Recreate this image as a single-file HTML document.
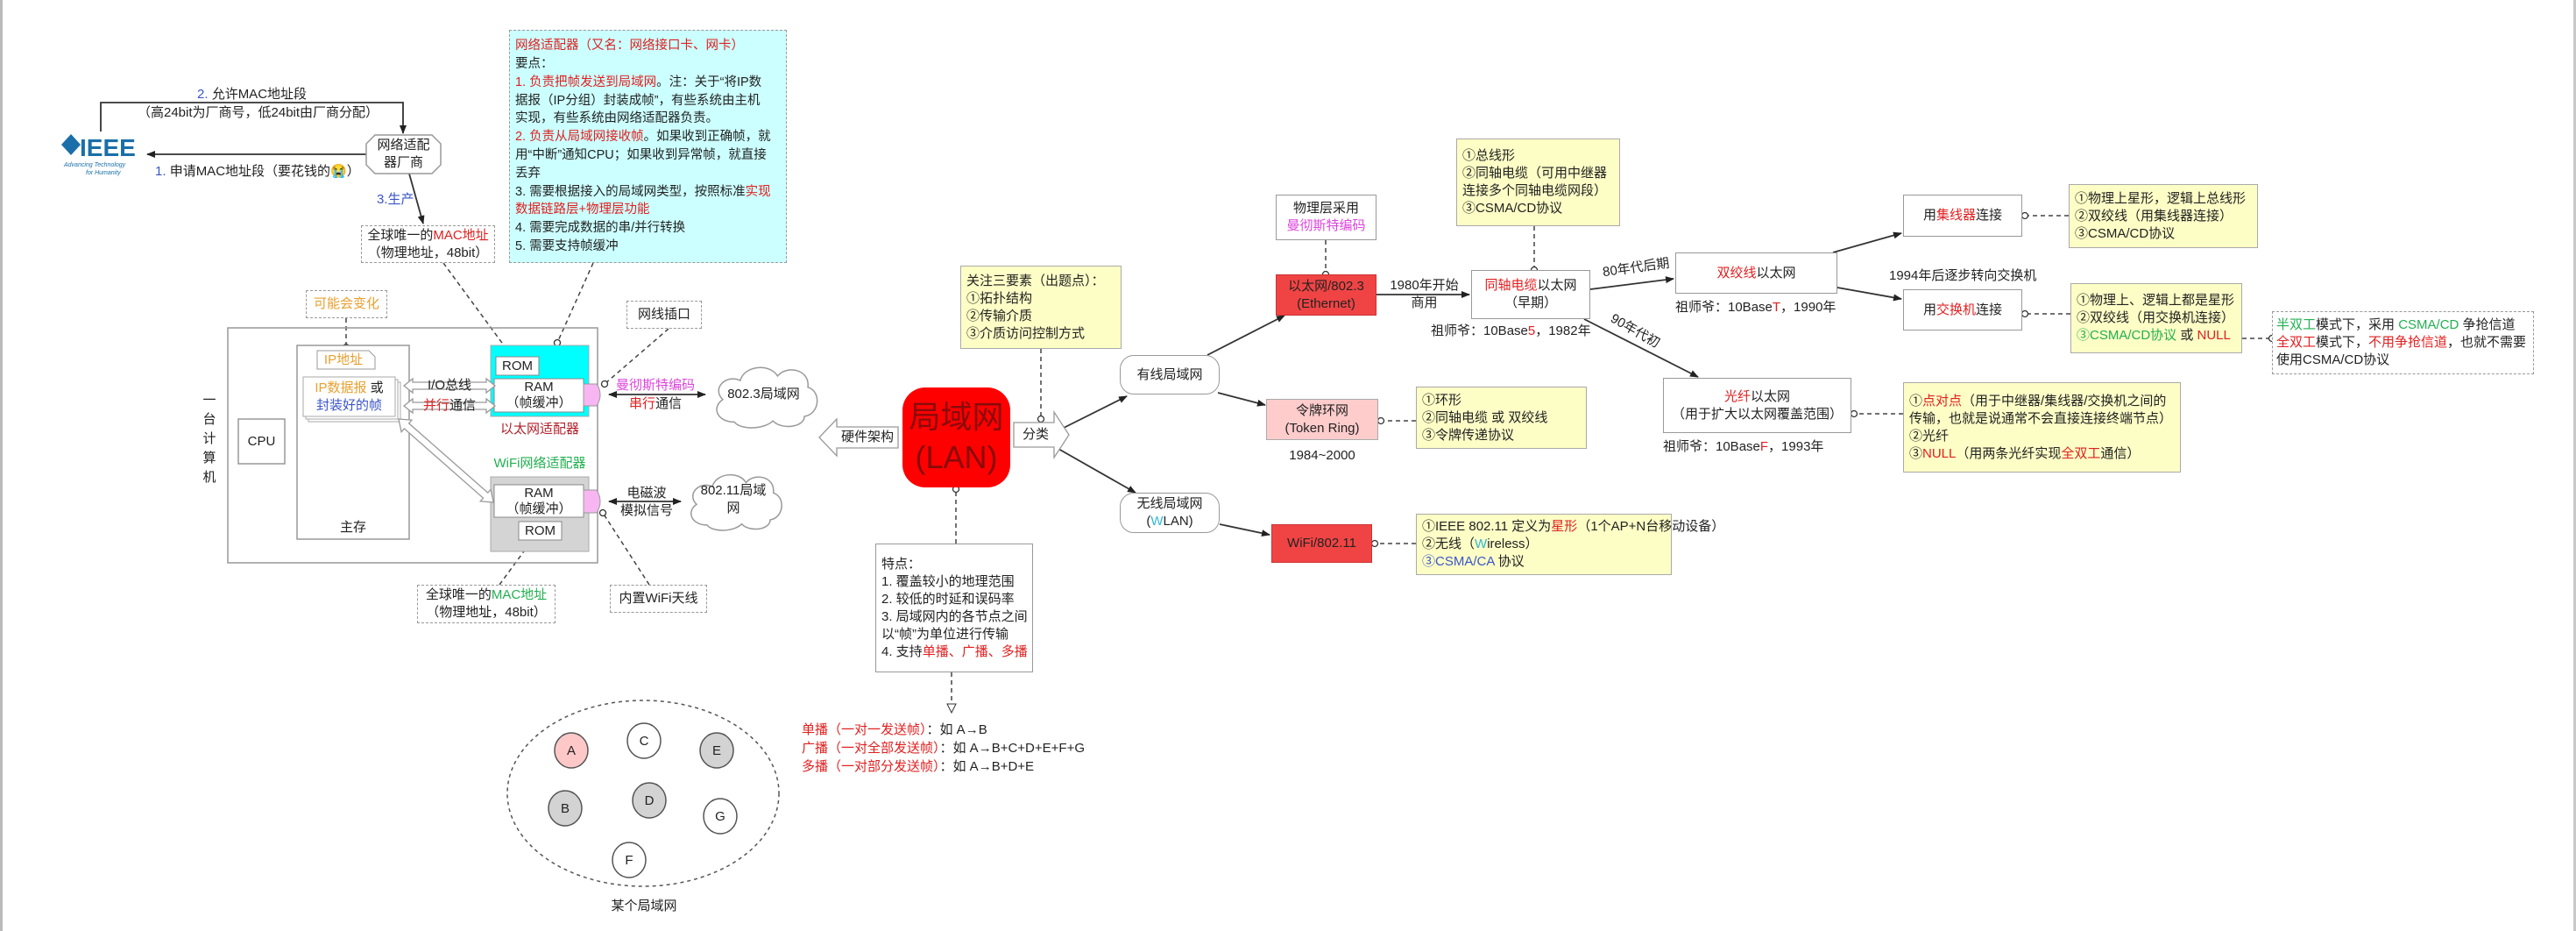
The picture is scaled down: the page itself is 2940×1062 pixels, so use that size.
<!DOCTYPE html>
<html><head><meta charset="utf-8">
<style>
html,body{margin:0;padding:0;background:#fff;}
#c{position:relative;width:2940px;height:1062px;overflow:hidden;background:#fff;font-family:"Liberation Sans","Noto Sans CJK SC",sans-serif;color:#222;border-left:3px solid #bbb;box-sizing:border-box;}
.b{position:absolute;box-sizing:border-box;display:flex;flex-direction:column;align-items:center;justify-content:center;text-align:center;font-size:15px;line-height:20px;white-space:nowrap;}
.t{position:absolute;font-size:15px;line-height:20px;white-space:nowrap;}
.y{background:#fdfdc6;border:1.5px solid #aaa;align-items:flex-start;text-align:left;padding-left:6px;}
.w{background:#fff;border:1.5px solid #999;}
.d{border:1.5px dashed #999;background:#fff;}
.r{color:#e02020}.bl{color:#3a55c8}.g{color:#22b050}.m{color:#dd44dd}.o{color:#e8a030}.c{color:#30b8d8}.dr{color:#b0202a}
svg{position:absolute;left:0;top:0;}
</style></head><body><div id="c">

<svg width="2940" height="1062">
<defs>
<marker id="a" markerWidth="10" markerHeight="10" refX="9" refY="5" orient="auto" markerUnits="userSpaceOnUse"><path d="M0,1 L10,5 L0,9 Z" fill="#222"/></marker>
<marker id="as" markerWidth="10" markerHeight="10" refX="1" refY="5" orient="auto" markerUnits="userSpaceOnUse"><path d="M10,1 L0,5 L10,9 Z" fill="#222"/></marker>
<marker id="o" markerWidth="10" markerHeight="10" refX="5" refY="5" orient="auto" markerUnits="userSpaceOnUse"><circle cx="5" cy="5" r="3.5" fill="#fff" stroke="#333" stroke-width="1.3"/></marker>
<marker id="dot" markerWidth="10" markerHeight="10" refX="5" refY="5" orient="auto" markerUnits="userSpaceOnUse"><circle cx="5" cy="5" r="4" fill="#222"/></marker>
<marker id="tri" markerWidth="12" markerHeight="12" refX="10" refY="6" orient="auto" markerUnits="userSpaceOnUse"><path d="M1,1 L11,6 L1,11 Z" fill="#fff" stroke="#333"/></marker>
</defs>
<g fill="none" stroke="#333" stroke-width="1.8">
<!-- IEEE -->
<polyline points="112,150 112,117 457,117 457,152" marker-end="url(#a)"/>
<line x1="415" y1="176" x2="165" y2="176" marker-end="url(#a)"/>
<line x1="464" y1="198" x2="480" y2="255" marker-end="url(#a)"/>
<!-- network arrows -->
<line x1="692" y1="450" x2="802" y2="450" marker-start="url(#as)" marker-end="url(#a)"/>
<line x1="692" y1="572" x2="774" y2="572" marker-start="url(#as)" marker-end="url(#a)"/>
<!-- LAN tree -->
<line x1="1211" y1="488" x2="1283" y2="452" marker-end="url(#a)"/>
<line x1="1205" y1="512" x2="1293" y2="562" marker-end="url(#a)"/>
<line x1="1375" y1="405" x2="1463" y2="360" marker-end="url(#a)"/>
<line x1="1387" y1="448" x2="1441" y2="462" marker-end="url(#a)"/>
<line x1="1389" y1="598" x2="1446" y2="610" marker-end="url(#a)"/>
<line x1="1568" y1="336" x2="1674" y2="336" marker-end="url(#a)"/>
<line x1="1812" y1="330" x2="1907" y2="318" marker-end="url(#a)"/>
<line x1="1805" y1="364" x2="1935" y2="430" marker-end="url(#a)"/>
<line x1="2089" y1="288" x2="2167" y2="266" marker-end="url(#a)"/>
<line x1="2094" y1="328" x2="2167" y2="341" marker-end="url(#a)"/>
</g>
<g fill="none" stroke="#444" stroke-width="1.5" stroke-dasharray="5,4">
<line x1="503" y1="300" x2="578" y2="402" marker-end="url(#o)"/>
<line x1="674" y1="300" x2="633" y2="391" marker-end="url(#o)"/>
<line x1="392" y1="363" x2="392" y2="396" marker-end="url(#dot)"/>
<line x1="760" y1="375" x2="687" y2="438" marker-end="url(#o)"/>
<line x1="567" y1="667" x2="603" y2="618" marker-end="url(#o)"/>
<line x1="738" y1="667" x2="685" y2="585" marker-end="url(#o)"/>
<line x1="1185" y1="398" x2="1185" y2="478" marker-end="url(#o)"/>
<line x1="1088" y1="620" x2="1088" y2="558" marker-end="url(#o)"/>
<line x1="1083" y1="767" x2="1083" y2="812" marker-end="url(#tri)"/>
<line x1="1510" y1="274" x2="1510" y2="313" marker-end="url(#o)"/>
<line x1="1748" y1="258" x2="1748" y2="308" marker-end="url(#o)"/>
<line x1="2358" y1="246" x2="2308" y2="246" marker-end="url(#o)"/>
<line x1="2360" y1="358" x2="2308" y2="358" marker-end="url(#o)"/>
<line x1="2556" y1="386" x2="2590" y2="386" marker-end="url(#o)"/>
<line x1="2169" y1="472" x2="2113" y2="472" marker-end="url(#o)"/>
<line x1="1613" y1="480" x2="1573" y2="480" marker-end="url(#o)"/>
<line x1="1613" y1="620" x2="1566" y2="620" marker-end="url(#o)"/>
</g>
<!-- computer box -->
<rect x="257" y="374" width="422" height="268" fill="none" stroke="#999" stroke-width="1.5"/>
<rect x="336" y="394" width="128" height="221" fill="#fff" stroke="#999" stroke-width="1.5"/>
<rect x="269" y="478" width="53" height="51" fill="#fff" stroke="#999" stroke-width="1.5"/>
<!-- IP stacked -->
<rect x="349" y="436" width="105" height="45" fill="#fff" stroke="#aaa"/>
<rect x="346" y="433" width="105" height="45" fill="#fff" stroke="#aaa"/>
<rect x="343" y="430" width="105" height="45" fill="#fff" stroke="#aaa"/>
<path d="M359,400 L418,400 L425,407 L425,421 L359,421 Z" fill="#fff" stroke="#999"/>
<!-- adapters -->
<rect x="557" y="394" width="112" height="81" fill="#00ffff" stroke="#aaa"/>
<rect x="563" y="407" width="49" height="21" fill="#fff" stroke="#888"/>
<rect x="561" y="432" width="102" height="38" fill="#fff" stroke="#888"/>
<path d="M663,438 L678,438 Q686,450 678,463 L663,463 Z" fill="#f7b6f2" stroke="#999"/>
<rect x="557" y="544" width="112" height="85" fill="#d4d4d4" stroke="#aaa"/>
<rect x="561" y="553" width="102" height="37" fill="#fff" stroke="#888"/>
<rect x="589" y="595" width="49" height="21" fill="#fff" stroke="#888"/>
<path d="M663,559 L678,559 Q686,572 678,585 L663,585 Z" fill="#f7b6f2" stroke="#999"/>
<!-- hollow arrows IO -->
<g fill="#fff" stroke="#999" stroke-width="1.3">
<path d="M458,440 L468,432 L468,436 L552,436 L552,432 L562,440 L552,448 L552,444 L468,444 L468,448 Z"/>
<path d="M458,463 L468,455 L468,459 L552,459 L552,455 L562,463 L552,471 L552,467 L468,467 L468,471 Z"/>
<g transform="translate(452,478) rotate(41.3)"><path d="M0,0 L12,-9 L12,-4 L132,-4 L132,-9 L144,0 L132,9 L132,4 L12,4 L12,9 Z"/></g>
<path d="M932,499 L952,478 L952,487 L1022,487 L1022,511 L952,511 L952,520 Z"/>
<path d="M1154,482 L1200,482 L1200,470 L1217,496 L1200,522 L1200,510 L1154,510 Z"/>
</g>
<!-- clouds -->
<g fill="#fff" stroke="#999" stroke-width="1.5">
<path transform="translate(802,411) scale(1.33,1.28)" vector-effect="non-scaling-stroke" d="M25,55 C10,55 5,42 15,35 C5,25 18,12 30,18 C33,5 55,2 62,14 C70,4 90,8 88,24 C100,28 98,48 85,50 C85,60 65,62 58,54 C50,62 30,62 25,55 Z"/>
<path transform="translate(774,534) scale(1.2,1.18)" vector-effect="non-scaling-stroke" d="M25,55 C10,55 5,42 15,35 C5,25 18,12 30,18 C33,5 55,2 62,14 C70,4 90,8 88,24 C100,28 98,48 85,50 C85,60 65,62 58,54 C50,62 30,62 25,55 Z"/>
</g>
<!-- vendor box -->
<path d="M425,154 L490,154 L500,164 L500,188 L490,198 L425,198 L415,188 L415,164 Z" fill="#fff" stroke="#999" stroke-width="1.5"/>
<!-- IEEE logo -->
<path d="M67,165 L78,153 L89,165 L78,177 Z" fill="#1a6fa8"/>
<text x="88" y="178" font-family="Liberation Sans" font-weight="bold" font-size="28" fill="#1a6fa8">IEEE</text>
<text x="70" y="190" font-family="Liberation Sans" font-style="italic" font-size="7" fill="#1a6fa8">Advancing Technology</text>
<text x="95" y="199" font-family="Liberation Sans" font-style="italic" font-size="7" fill="#1a6fa8">for Humanity</text>
<!-- LAN ellipse -->
<ellipse cx="731" cy="905" rx="155" ry="106" fill="none" stroke="#555" stroke-width="1.5" stroke-dasharray="4,4"/>
<g stroke="#555" stroke-width="1.5" font-family="Liberation Sans" font-size="15" text-anchor="middle">
<ellipse cx="649" cy="856" rx="19" ry="20" fill="#ffc8c8"/>
<ellipse cx="732" cy="845" rx="19" ry="20" fill="#fff"/>
<ellipse cx="815" cy="856" rx="19" ry="20" fill="#d3d3d3"/>
<ellipse cx="642" cy="922" rx="19" ry="20" fill="#d3d3d3"/>
<ellipse cx="738" cy="913" rx="19" ry="20" fill="#d3d3d3"/>
<ellipse cx="819" cy="931" rx="19" ry="20" fill="#fff"/>
<ellipse cx="715" cy="981" rx="19" ry="20" fill="#fff"/>
</g>
<g font-family="Liberation Sans" font-size="15" text-anchor="middle" fill="#222">
<text x="649" y="861">A</text><text x="732" y="850">C</text><text x="815" y="861">E</text>
<text x="642" y="927">B</text><text x="738" y="918">D</text><text x="819" y="936">G</text><text x="715" y="986">F</text>
</g>
</svg>

<!-- left labels -->
<div class="t" style="left:222px;top:98px;font-size:15px"><span class="bl">2. </span>允许MAC地址段</div>
<div class="t" style="left:154px;top:119px;">（高24bit为厂商号，低24bit由厂商分配）</div>
<div class="t" style="left:174px;top:186px;"><span class="bl">1. </span>申请MAC地址段（要花钱的😭）</div>
<div class="b" style="left:415px;top:154px;width:85px;height:44px;line-height:20px">网络适配<br>器厂商</div>
<div class="t bl" style="left:427px;top:218px;">3.生产</div>
<div class="b d" style="left:409px;top:257px;width:153px;height:43px;"><div>全球唯一的<span class="r">MAC地址</span></div><div>（物理地址，48bit）</div></div>

<div class="b d" style="left:578px;top:34px;width:317px;height:266px;background:#ccffff;align-items:flex-start;text-align:left;padding-left:6px;line-height:20.8px;font-size:14.5px">
<div><span class="r">网络适配器（又名：网络接口卡、网卡）</span></div>
<div>要点：</div>
<div><span class="r">1. 负责把帧发送到局域网</span>。注：关于“将IP数</div>
<div>据报（IP分组）封装成帧”，有些系统由主机</div>
<div>实现，有些系统由网络适配器负责。</div>
<div><span class="r">2. 负责从局域网接收帧</span>。如果收到正确帧，就</div>
<div>用“中断”通知CPU；如果收到异常帧，就直接</div>
<div>丢弃</div>
<div>3. 需要根据接入的局域网类型，按照标准<span class="r">实现</span></div>
<div><span class="r">数据链路层+物理层功能</span></div>
<div>4. 需要完成数据的串/并行转换</div>
<div>5. 需要支持帧缓冲</div>
</div>

<div class="b d o" style="left:346px;top:331px;width:93px;height:32px;">可能会变化</div>
<div class="b d" style="left:712px;top:343px;width:86px;height:32px;">网线插口</div>

<div class="t" style="left:226px;top:446px;width:20px;line-height:22px;white-space:normal;text-align:center;">一<br>台<br>计<br>算<br>机</div>
<div class="b" style="left:269px;top:478px;width:53px;height:51px;">CPU</div>
<div class="b" style="left:336px;top:592px;width:128px;height:20px;">主存</div>
<div class="b o" style="left:359px;top:400px;width:60px;height:21px;">IP地址</div>
<div class="b" style="left:343px;top:430px;width:105px;height:45px;"><div><span class="o">IP数据报</span> 或</div><div class="bl">封装好的帧</div></div>
<div class="b" style="left:563px;top:407px;width:49px;height:21px;">ROM</div>
<div class="b" style="left:561px;top:432px;width:102px;height:38px;line-height:18px">RAM<br>（帧缓冲）</div>
<div class="b dr" style="left:557px;top:480px;width:112px;height:20px;">以太网适配器</div>
<div class="b g" style="left:557px;top:519px;width:112px;height:20px;">WiFi网络适配器</div>
<div class="b" style="left:561px;top:553px;width:102px;height:37px;line-height:18px">RAM<br>（帧缓冲）</div>
<div class="b" style="left:589px;top:595px;width:49px;height:21px;">ROM</div>
<div class="b" style="left:470px;top:430px;width:80px;height:20px;">I/O总线</div>
<div class="b" style="left:470px;top:453px;width:80px;height:20px;"><div><span class="r">并行</span>通信</div></div>
<div class="b m" style="left:695px;top:430px;width:100px;height:20px;">曼彻斯特编码</div>
<div class="b" style="left:695px;top:451px;width:100px;height:20px;"><div><span class="r">串行</span>通信</div></div>
<div class="b" style="left:802px;top:416px;width:133px;height:68px;">802.3局域网</div>
<div class="b" style="left:695px;top:553px;width:80px;height:20px;">电磁波</div>
<div class="b" style="left:695px;top:573px;width:80px;height:20px;">模拟信号</div>
<div class="b" style="left:778px;top:538px;width:112px;height:64px;">802.11局域<br>网</div>
<div class="b d" style="left:473px;top:667px;width:158px;height:44px;"><div>全球唯一的<span class="g">MAC地址</span></div><div>（物理地址，48bit）</div></div>
<div class="b d" style="left:693px;top:667px;width:111px;height:32px;">内置WiFi天线</div>
<div class="b" style="left:952px;top:489px;width:70px;height:20px;">硬件架构</div>

<!-- LAN -->
<div class="b" style="left:1027px;top:442px;width:123px;height:114px;background:#ff0000;border-radius:26px;font-size:36px;line-height:46px;color:#8a0a0a;">局域网<br>(LAN)</div>
<div class="b" style="left:1154px;top:486px;width:50px;height:20px;">分类</div>
<div class="b y" style="left:1093px;top:303px;width:184px;height:95px;"><div>关注三要素（出题点）：</div><div>①拓扑结构</div><div>②传输介质</div><div>③介质访问控制方式</div></div>
<div class="b w" style="left:1275px;top:405px;width:114px;height:45px;border-radius:16px;">有线局域网</div>
<div class="b w" style="left:1275px;top:562px;width:114px;height:46px;border-radius:16px;"><div>无线局域网</div><div>(<span class="c">W</span>LAN)</div></div>
<div class="b w" style="left:996px;top:620px;width:180px;height:147px;align-items:flex-start;text-align:left;padding-left:6px;"><div>特点：</div><div>1. 覆盖较小的地理范围</div><div>2. 较低的时延和误码率</div><div>3. 局域网内的各节点之间</div><div>以“帧”为单位进行传输</div><div>4. 支持<span class="r">单播、广播、多播</span></div></div>
<div class="t" style="left:912px;top:822px;line-height:21px"><span class="r">单播（一对一发送帧）</span>：如 A→B<br><span class="r">广播（一对全部发送帧）</span>：如 A→B+C+D+E+F+G<br><span class="r">多播（一对部分发送帧）</span>：如 A→B+D+E</div>
<div class="b" style="left:680px;top:1024px;width:104px;height:20px;">某个局域网</div>

<div class="b w" style="left:1453px;top:222px;width:115px;height:52px;"><div>物理层采用</div><div class="m">曼彻斯特编码</div></div>
<div class="b" style="left:1453px;top:313px;width:115px;height:47px;background:#f04444;border:1.5px solid #c33;"><div>以太网/802.3</div><div>(Ethernet)</div></div>
<div class="b" style="left:1580px;top:316px;width:85px;height:40px;">1980年开始<br>商用</div>
<div class="b" style="left:1442px;top:455px;width:128px;height:47px;background:#ffcccc;border:1.5px solid #aaa;"><div>令牌环网</div><div>(Token Ring)</div></div>
<div class="b" style="left:1442px;top:510px;width:128px;height:20px;">1984~2000</div>
<div class="b" style="left:1448px;top:598px;width:115px;height:44px;background:#f04444;border:1.5px solid #c33;">WiFi/802.11</div>
<div class="b y" style="left:1613px;top:441px;width:195px;height:71px;"><div>①环形</div><div>②同轴电缆 或 双绞线</div><div>③令牌传递协议</div></div>
<div class="b y" style="left:1613px;top:586px;width:292px;height:70px;"><div>①IEEE 802.11 定义为<span class="r">星形</span>（1个AP+N台移动设备）</div><div>②无线（<span class="c">W</span>ireless）</div><div><span class="bl">③CSMA/CA</span> 协议</div></div>

<div class="b y" style="left:1659px;top:158px;width:187px;height:100px;"><div>①总线形</div><div>②同轴电缆（可用中继器</div><div>连接多个同轴电缆网段）</div><div>③CSMA/CD协议</div></div>
<div class="b w" style="left:1676px;top:308px;width:136px;height:56px;"><div><span class="r">同轴电缆</span>以太网</div><div>（早期）</div></div>
<div class="t" style="left:1630px;top:368px;">祖师爷：10Base<span class="r">5</span>，1982年</div>
<div class="t" style="left:1826px;top:296px;transform:rotate(-8deg);">80年代后期</div>
<div class="t" style="left:1832px;top:368px;transform:rotate(30deg);">90年代初</div>

<div class="b w" style="left:1909px;top:288px;width:185px;height:47px;"><div><span class="r">双绞线</span>以太网</div></div>
<div class="t" style="left:1909px;top:341px;">祖师爷：10Base<span class="r">T</span>，1990年</div>
<div class="b w" style="left:1895px;top:431px;width:215px;height:63px;"><div><span class="r">光纤</span>以太网</div><div>（用于扩大以太网覆盖范围）</div></div>
<div class="t" style="left:1895px;top:500px;">祖师爷：10Base<span class="r">F</span>，1993年</div>

<div class="b w" style="left:2169px;top:222px;width:136px;height:48px;"><div>用<span class="r">集线器</span>连接</div></div>
<div class="t" style="left:2153px;top:305px;">1994年后逐步转向交换机</div>
<div class="b w" style="left:2169px;top:330px;width:136px;height:47px;"><div>用<span class="r">交换机</span>连接</div></div>
<div class="b y" style="left:2358px;top:210px;width:216px;height:73px;"><div>①物理上星形，逻辑上总线形</div><div>②双绞线（用集线器连接）</div><div>③CSMA/CD协议</div></div>
<div class="b y" style="left:2360px;top:323px;width:196px;height:80px;"><div>①物理上、逻辑上都是星形</div><div>②双绞线（用交换机连接）</div><div><span class="g">③CSMA/CD协议</span> 或 <span class="r">NULL</span></div></div>
<div class="b d" style="left:2590px;top:355px;width:299px;height:72px;align-items:flex-start;text-align:left;padding-left:4px;"><div><span class="g">半双工</span>模式下，采用 <span class="g">CSMA/CD</span> 争抢信道</div><div><span class="r">全双工</span>模式下，<span class="r">不用争抢信道</span>，也就不需要</div><div>使用CSMA/CD协议</div></div>
<div class="b y" style="left:2169px;top:436px;width:317px;height:103px;"><div>①<span class="r">点对点</span>（用于中继器/集线器/交换机之间的</div><div>传输，也就是说通常不会直接连接终端节点）</div><div>②光纤</div><div>③<span class="r">NULL</span>（用两条光纤实现<span class="r">全双工</span>通信）</div></div>

<div style="position:absolute;left:2934px;top:0;width:6px;height:1062px;background:#c8c8c8"></div>
</div></body></html>
